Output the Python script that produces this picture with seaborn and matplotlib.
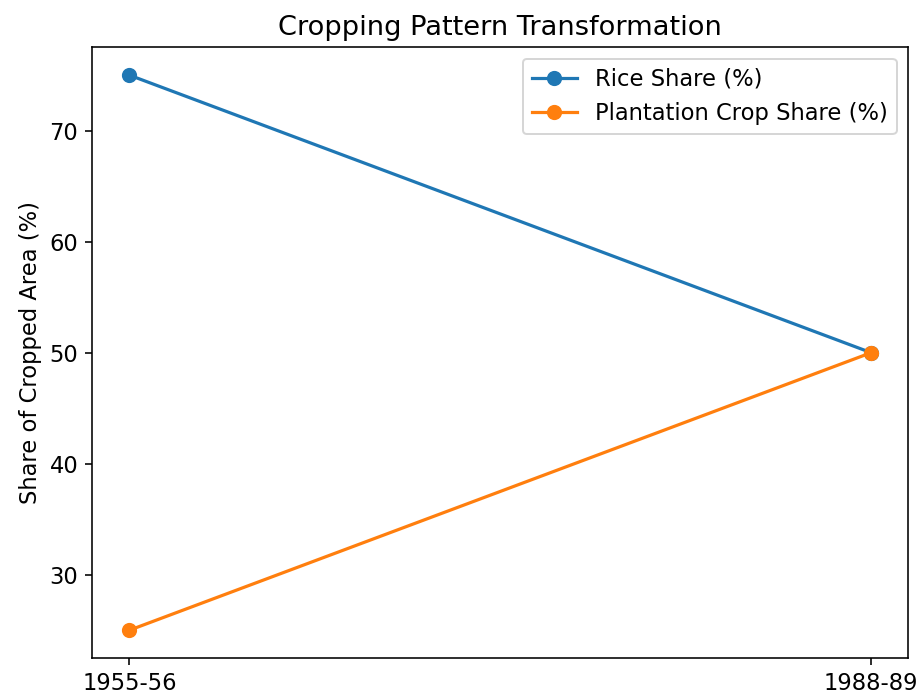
import matplotlib
matplotlib.use("Agg")
import matplotlib.pyplot as plt
import seaborn as sns

# Data
periods = ["1955-56", "1988-89"]
rice_share = [75, 50]
plantation_share = [25, 50]

# the reference text is a bit larger than the matplotlib defaults
plt.rcParams.update({
    "font.size": 11.3,
    "axes.titlesize": 13.6,
    "axes.labelsize": 11.3,
    "xtick.labelsize": 11.3,
    "ytick.labelsize": 11.3,
    "legend.fontsize": 11.3,
})

fig, ax = plt.subplots(figsize=(923 / 144, 697 / 144), dpi=144)

sns.lineplot(x=periods, y=rice_share, marker="o", color="#1f77b4",
             markeredgecolor="#1f77b4", markeredgewidth=1, markersize=6.6,
             linewidth=1.6, label="Rice Share (%)", ax=ax)
sns.lineplot(x=periods, y=plantation_share, marker="o", color="#ff7f0e",
             markeredgecolor="#ff7f0e", markeredgewidth=1, markersize=6.6,
             linewidth=1.6, label="Plantation Crop Share (%)", ax=ax)

ax.set_title("Cropping Pattern Transformation")
ax.set_ylabel("Share of Cropped Area (%)")
ax.set_xlabel("")
ax.legend(loc="upper right")

fig.subplots_adjust(left=0.1, right=0.984, top=0.932, bottom=0.056)
fig.savefig("out.png", dpi=144)
